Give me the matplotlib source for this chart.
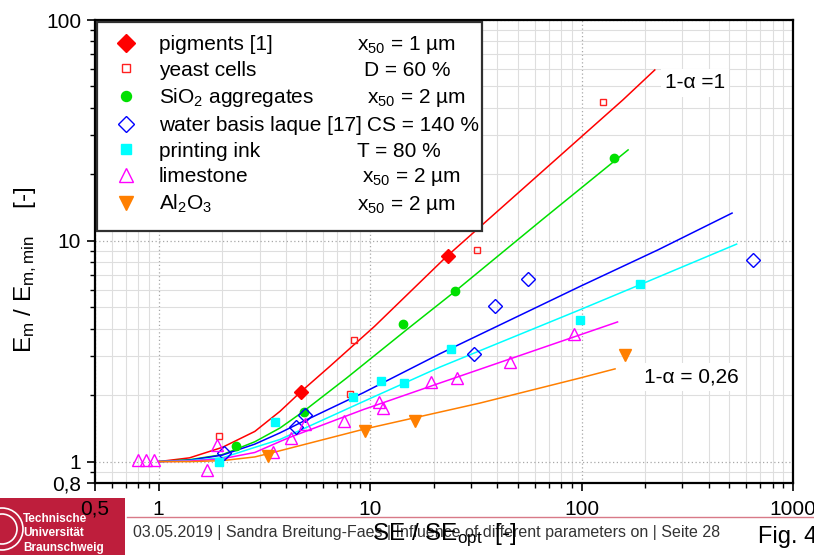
import matplotlib

matplotlib.use("Agg")
import matplotlib.pyplot as plt
import numpy as np
from matplotlib.lines import Line2D
from matplotlib.patches import Circle, Rectangle
from matplotlib.ticker import FixedLocator, FixedFormatter, LogLocator, NullFormatter

plt.rcParams["font.family"] = ["Liberation Sans", "DejaVu Sans"]
plt.rcParams["mathtext.fontset"] = "custom"
plt.rcParams["mathtext.rm"] = "Liberation Sans"
plt.rcParams["mathtext.it"] = "Liberation Sans:italic"
plt.rcParams["mathtext.bf"] = "Liberation Sans:bold"

# measured points, SE/SE_opt vs E_m/E_m,min
pig_x = [4.7, 23.4]
pig_y = [2.07, 8.5]
yeast_x = [1.93, 8.05, 8.4, 31.9, 126]
yeast_y = [1.31, 2.03, 3.54, 9.1, 42.4]
sio2_x = [2.31, 4.85, 14.3, 25.2, 142]
sio2_y = [1.18, 1.68, 4.21, 5.9, 23.7]
laque_x = [2.04, 4.44, 4.92, 31.1, 38.9, 55.6, 647]
laque_y = [1.09, 1.44, 1.63, 3.08, 5.08, 6.71, 8.15]
ink_x = [1.93, 3.55, 8.32, 11.2, 14.45, 24.1, 97.9, 190]
ink_y = [1.0, 1.51, 1.96, 2.31, 2.28, 3.24, 4.4, 6.34]
lime_x = [0.80, 0.87, 0.95, 1.69, 1.89, 3.46, 4.24, 4.92, 7.52, 11.0, 11.5, 19.5, 25.9, 45.8, 92.3]
lime_y = [1.02, 1.02, 1.02, 0.92, 1.19, 1.10, 1.28, 1.48, 1.52, 1.87, 1.74, 2.29, 2.39, 2.84, 3.78]
al_x = [3.30, 9.45, 16.3, 160]
al_y = [1.06, 1.37, 1.52, 3.05]

# model curves
fit_red_x = [1, 1.4, 2.0, 2.85, 3.75, 4.7, 6.45, 10.5, 23, 157, 222]
fit_red_y = [1, 1.04, 1.16, 1.37, 1.69, 2.07, 2.70, 4.1, 8.49, 43.5, 59.4]
fit_green_x = [1, 1.4, 2.0, 2.85, 3.75, 4.85, 7.74, 14.9, 25.2, 64.7, 166]
fit_green_y = [1, 1.02, 1.075, 1.23, 1.42, 1.69, 2.39, 3.96, 5.9, 12.4, 25.8]
fit_blue_x = [1, 1.4, 2.0, 2.85, 3.75, 4.82, 9.28, 21.4, 98.2, 230, 515]
fit_blue_y = [1, 1.015, 1.07, 1.2, 1.35, 1.52, 2.05, 3.08, 6.21, 9.1, 13.35]
fit_cyan_x = [1, 1.4, 2.0, 2.85, 3.75, 9.28, 21.4, 98.2, 190, 541]
fit_cyan_y = [1, 1.01, 1.04, 1.16, 1.26, 1.87, 2.68, 4.87, 6.34, 9.66]
fit_mag_x = [1, 1.4, 2.0, 2.85, 4.1, 9.28, 21.4, 148]
fit_mag_y = [1, 1.005, 1.03, 1.10, 1.28, 1.72, 2.27, 4.29]
fit_orange_x = [1, 1.4, 2.0, 2.85, 3.75, 9.28, 33, 98.2, 144]
fit_orange_y = [1, 1.0, 1.01, 1.05, 1.12, 1.40, 1.84, 2.39, 2.63]

names = ["pigments [1]", "yeast cells", "SiO$_\\mathregular{2}$ aggregates",
         "water basis laque [17]", "printing ink", "limestone",
         "Al$_\\mathregular{2}$O$_\\mathregular{3}$"]
conditions = ["x$_\\mathregular{50}$ = 1 µm", "D = 60 %", "x$_\\mathregular{50}$ = 2 µm",
              "CS = 140 %", "T = 80 %", "x$_\\mathregular{50}$ = 2 µm",
              "x$_\\mathregular{50}$ = 2 µm"]
x_ticks = [0.5, 1, 10, 100, 1000]
x_ticklabels = ["0,5", "1", "10", "100", "1000"]
y_ticks = [0.8, 1, 10, 100]
y_ticklabels = ["0,8", "1", "10", "100"]

W, H = 814, 555
fig = plt.figure(figsize=(W / 100, H / 100), dpi=100)
ax = fig.add_axes([95 / W, 1 - 483 / H, 698 / W, 463 / H])
ax.set_xscale("log")
ax.set_yscale("log")
ax.set_xlim(0.5, 1000)
ax.set_ylim(0.8, 100)

lw = 1.1
ax.plot(fit_red_x, fit_red_y, color="#FF0000", lw=lw, zorder=3)
ax.plot(fit_green_x, fit_green_y, color="#00E000", lw=lw, zorder=3)
ax.plot(fit_blue_x, fit_blue_y, color="#0000FF", lw=lw, zorder=3)
ax.plot(fit_cyan_x, fit_cyan_y, color="#00FFFF", lw=lw, zorder=3)
ax.plot(fit_mag_x, fit_mag_y, color="#FF00FF", lw=lw, zorder=3)
ax.plot(fit_orange_x, fit_orange_y, color="#FF7F00", lw=lw, zorder=3)

h_pig, = ax.plot(pig_x, pig_y, ls="none", marker="D", ms=7.5, color="#FF0000", zorder=4)
h_yeast, = ax.plot(yeast_x, yeast_y, ls="none", marker="s", ms=4.8, mfc="none", mec="#FF2020", mew=1.0, zorder=4)
h_sio2, = ax.plot(sio2_x, sio2_y, ls="none", marker="o", ms=6, color="#00E000", zorder=4)
h_laque, = ax.plot(laque_x, laque_y, ls="none", marker="D", ms=7, mfc="none", mec="#0000FF", mew=1.0, zorder=4)
h_ink, = ax.plot(ink_x, ink_y, ls="none", marker="s", ms=6, color="#00FFFF", zorder=4)
h_lime, = ax.plot(lime_x, lime_y, ls="none", marker="^", ms=8.5, mfc="none", mec="#FF00FF", mew=1.0, zorder=4)
h_al, = ax.plot(al_x, al_y, ls="none", marker="v", ms=8.5, color="#FF7F00", zorder=4)
handles = [h_pig, h_yeast, h_sio2, h_laque, h_ink, h_lime, h_al]

# axes, ticks, grid
ax.xaxis.set_major_locator(FixedLocator(x_ticks))
ax.xaxis.set_major_formatter(FixedFormatter(x_ticklabels))
ax.xaxis.set_minor_locator(LogLocator(base=10, subs=np.arange(2, 10)))
ax.xaxis.set_minor_formatter(NullFormatter())
ax.yaxis.set_major_locator(FixedLocator(y_ticks))
ax.yaxis.set_major_formatter(FixedFormatter(y_ticklabels))
ax.yaxis.set_minor_locator(LogLocator(base=10, subs=np.arange(2, 10)))
ax.yaxis.set_minor_formatter(NullFormatter())
ax.tick_params(which="major", direction="out", length=6, width=1.2, labelsize=15, pad=4)
ax.tick_params(which="minor", direction="out", length=3.5, width=1.0)
ax.tick_params(axis="x", which="major", pad=6)
for s in ax.spines.values():
    s.set_linewidth(1.6)
ax.grid(which="minor", color="#DEDEDE", lw=0.8, ls="-", zorder=0)
ax.grid(which="major", color="#A8A8A8", lw=0.9, ls=(0, (1, 2)), zorder=0)
ax.set_axisbelow(True)

ax.set_ylabel("E$_\\mathregular{m}$ / E$_\\mathregular{m,min}$    [-]", fontsize=17.5)
ax.yaxis.set_label_coords(-0.08, 0.46)
ax.set_xlabel("SE / SE$_\\mathregular{opt}$  [-]", fontsize=17.5, labelpad=2)

# legend: markers + names, conditions in a second column
def ax_frac(px, py):
    return (px - 95) / 698, (483 - py) / 463

x0, y0 = ax_frac(97, 231)
x1, y1 = ax_frac(482, 22)
ax.add_patch(Rectangle((x0, y0), x1 - x0, y1 - y0, transform=ax.transAxes,
                       facecolor="white", edgecolor="#303030", lw=1.6, zorder=6))
anchor = ax_frac(116, 35)
leg = ax.legend(handles, names, loc="upper left", bbox_to_anchor=anchor, frameon=False,
                fontsize=15, borderpad=0, borderaxespad=0, handlelength=1.0,
                handletextpad=1.05, labelspacing=0.32, numpoints=1, markerscale=1.2)
leg.set_zorder(7)

fig.canvas.draw()
cond_px = [356.7, 364, 366.7, 366.7, 356.7, 361.7, 356.7]
for t, cond, px in zip(leg.get_texts(), conditions, cond_px):
    bx, by = t.get_transform().transform(t.get_position())
    fx, fy = fig.transFigure.inverted().transform((bx, by))
    fig.text(px / W, fy, cond, fontsize=15, va="baseline", ha="left", zorder=8)

box = dict(facecolor="white", edgecolor="none", pad=3)
ax.text(*ax_frac(695, 83), "1-α =1", transform=ax.transAxes, fontsize=15,
        ha="center", va="center", bbox=box, zorder=5)
ax.text(*ax_frac(691, 377), "1-α = 0,26", transform=ax.transAxes, fontsize=15,
        ha="center", va="center", bbox=box, zorder=5)

# slide footer
tu_red = "#BE1E3C"
fig.add_artist(Rectangle((0, 0), 125 / W, 57 / H, transform=fig.transFigure,
                         facecolor=tu_red, edgecolor="none", zorder=-1))
for r in (0.21, 0.15):
    fig.add_artist(Circle((0.02, 0.26), r, transform=fig.dpi_scale_trans,
                          facecolor="none", edgecolor="white", lw=1.2, zorder=-1))
for i, word in enumerate(["Technische", "Universität", "Braunschweig"]):
    fig.text(23 / W, 1 - (519 + 14.5 * i) / H, word, fontsize=8.5, fontweight="bold",
             color="white", va="center", ha="left", zorder=-1)
fig.add_artist(Line2D([127 / W, 1], [1 - 517 / H] * 2, transform=fig.transFigure,
                      color="#D87A88", lw=1.0, zorder=-1))
fig.text(133 / W, 1 - 533 / H,
         "03.05.2019 | Sandra Breitung-Faes | Influence of different parameters on | Seite 28",
         fontsize=11.5, color="#333333", va="center", ha="left", zorder=-1)
fig.text(758 / W, 1 - 537 / H, "Fig. 4", fontsize=17, color="black", va="center", ha="left")

fig.savefig("out.png", dpi=100)
